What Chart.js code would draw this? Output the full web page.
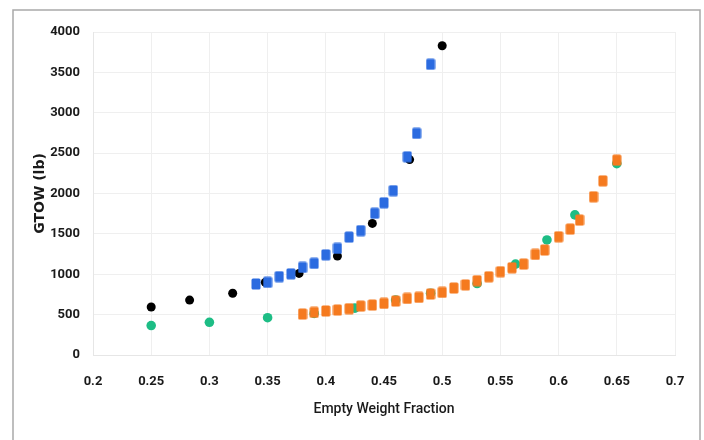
<!DOCTYPE html>
<html>
<head>
<meta charset="utf-8">
<script src="https://cdn.jsdelivr.net/npm/chart.js@4.4.1/dist/chart.umd.min.js"></script>
<style>
  html, body { margin: 0; padding: 0; background: #fff; }
  #wrap { position: relative; width: 704px; height: 440px; }
</style>
</head>
<body>
<div id="wrap"><canvas id="gtowChart" width="704" height="440"></canvas></div>
<script>
// empty weight fraction vs gross takeoff weight
const blackX = [0.25, 0.283, 0.32, 0.348, 0.377, 0.41, 0.44, 0.472, 0.5];
const blackY = [595, 680, 765, 900, 1010, 1225, 1630, 2420, 3830];

const blueX = [0.34, 0.35, 0.36, 0.37, 0.38, 0.39, 0.40, 0.41, 0.42, 0.43, 0.442, 0.45, 0.458, 0.47, 0.478, 0.49];
const blueY = [880, 900, 970, 1005, 1085, 1135, 1240, 1320, 1460, 1540, 1755, 1885, 2035, 2455, 2745, 3600];

const greenX = [0.25, 0.30, 0.35, 0.39, 0.425, 0.46, 0.49, 0.53, 0.563, 0.59, 0.614, 0.65];
const greenY = [365, 405, 462, 515, 580, 680, 765, 885, 1125, 1425, 1735, 2370];

const orangeX = [0.38, 0.39, 0.40, 0.41, 0.42, 0.43, 0.44, 0.45, 0.46, 0.47, 0.48, 0.49, 0.50, 0.51,
  0.52, 0.53, 0.54, 0.55, 0.56, 0.57, 0.58, 0.588, 0.60, 0.61, 0.618, 0.63, 0.638, 0.65];
const orangeY = [507, 528, 545, 557, 573, 606, 619, 640, 668, 701, 714, 755, 776, 829,
  868, 920, 969, 1031, 1080, 1126, 1246, 1300, 1464, 1559, 1671, 1959, 2157, 2413];

const xTicks = [0.2, 0.25, 0.3, 0.35, 0.4, 0.45, 0.5, 0.55, 0.6, 0.65, 0.7];
const yTicks = [0, 500, 1000, 1500, 2000, 2500, 3000, 3500, 4000];

function toPoints(xs, ys) {
  return xs.map((x, i) => ({ x: x, y: ys[i] }));
}

// small rounded-rectangle marker
function boxMarker(color) {
  const c = document.createElement('canvas');
  c.width = 10; c.height = 12;
  const g = c.getContext('2d');
  g.fillStyle = color;
  g.beginPath();
  g.roundRect(0.5, 0.5, 9, 11, 1.5);
  g.fill();
  return c;
}

const tickFont = { family: 'Roboto, sans-serif', size: 13, weight: 'bold' };

// grey frame around the whole chart
const frame = {
  id: 'frame',
  beforeDraw(chart) {
    const ctx = chart.ctx;
    ctx.save();
    ctx.fillStyle = '#fff';
    ctx.fillRect(0, 0, chart.width, chart.height);
    ctx.strokeStyle = '#a9a9a9';
    ctx.lineWidth = 1.5;
    ctx.strokeRect(13, 10, 687, 445);
    ctx.restore();
  }
};

const ctx = document.getElementById('gtowChart').getContext('2d');
new Chart(ctx, {
  type: 'scatter',
  data: {
    datasets: [
      {
        label: 'Blue',
        data: toPoints(blueX, blueY),
        pointStyle: boxMarker('#2b6be0'),
        backgroundColor: '#2b6be0'
      },
      {
        label: 'Black',
        data: toPoints(blackX, blackY),
        pointStyle: 'circle',
        pointRadius: 4.5,
        backgroundColor: '#000',
        borderWidth: 0
      },
      {
        label: 'Orange',
        data: toPoints(orangeX, orangeY),
        pointStyle: boxMarker('#f57a1f'),
        backgroundColor: '#f57a1f'
      },
      {
        label: 'Green',
        data: toPoints(greenX, greenY),
        pointStyle: 'circle',
        pointRadius: 4.8,
        backgroundColor: '#1dbd85',
        borderWidth: 0
      }
    ]
  },
  options: {
    responsive: false,
    animation: false,
    layout: { padding: { left: 14, right: 29, top: 32, bottom: 0 } },
    plugins: {
      legend: { display: false },
      tooltip: { enabled: false }
    },
    scales: {
      x: {
        type: 'linear',
        min: 0.2,
        max: 0.7,
        afterBuildTicks: (s) => { s.ticks = xTicks.map(v => ({ value: v })); },
        afterFit: (s) => { s.height = 85; },
        grid: { color: '#efefef', drawTicks: false },
        border: { color: '#e6e6e6' },
        ticks: { padding: 19, color: '#1a1a1a', font: tickFont, callback: v => String(v) },
        title: {
          display: true,
          text: 'Empty Weight Fraction',
          color: '#1a1a1a',
          font: { family: 'Roboto, sans-serif', size: 14, weight: '500' },
          padding: { top: 4, bottom: 22 }
        }
      },
      y: {
        min: 0,
        max: 4000,
        afterBuildTicks: (s) => { s.ticks = yTicks.map(v => ({ value: v })); },
        afterFit: (s) => { s.width = 79; },
        grid: { color: '#efefef', drawTicks: false },
        border: { color: '#e6e6e6' },
        ticks: { padding: 13, color: '#1a1a1a', font: tickFont, callback: v => String(v) },
        title: {
          display: true,
          text: 'GTOW (lb)',
          color: '#1a1a1a',
          font: { family: "'DejaVu Sans', sans-serif", size: 14, weight: 'bold' },
          padding: { top: 18, bottom: 0 }
        }
      }
    }
  },
  plugins: [frame]
});
</script>
</body>
</html>
